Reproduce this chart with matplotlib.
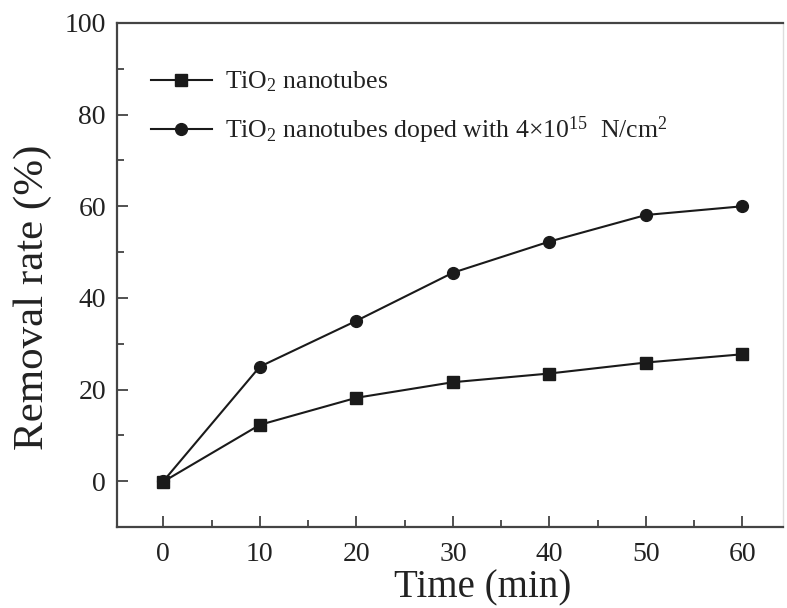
import matplotlib
matplotlib.use("Agg")
import matplotlib.pyplot as plt
from matplotlib.ticker import MultipleLocator

plt.rcParams['font.family'] = ['Liberation Serif', 'DejaVu Serif']
plt.rcParams['mathtext.fontset'] = 'custom'
plt.rcParams['mathtext.rm'] = 'Liberation Serif'
plt.rcParams['mathtext.it'] = 'Liberation Serif:italic'

time = [0, 10, 20, 30, 40, 50, 60]
undoped = [-0.1, 12.3, 18.2, 21.6, 23.5, 25.9, 27.7]
doped = [0.0, 25.0, 35.0, 45.5, 52.3, 58.1, 60.0]
labels = ["TiO$_2$ nanotubes",
          "TiO$_2$ nanotubes doped with 4\u00d710$^{15}$  N/cm$^2$"]

W, H = 787, 608
fig = plt.figure(figsize=(W/100, H/100), dpi=100)
ax = fig.add_axes([117/W, 1-527/H, (783-117)/W, (527-23)/H])

c = '#1a1a1a'
ax.plot(time, undoped, '-s', color=c, lw=1.5, ms=8, label=labels[0])
ax.plot(time, doped, '-o', color=c, lw=1.5, ms=8.5, label=labels[1])

ax.set_xlim(-4.8, 64.2)
ax.set_ylim(-10, 100)
ax.xaxis.set_major_locator(MultipleLocator(10))
ax.xaxis.set_minor_locator(MultipleLocator(5))
ax.yaxis.set_major_locator(MultipleLocator(20))
ax.yaxis.set_minor_locator(MultipleLocator(10))
ax.tick_params(which='both', direction='in', top=False, right=False,
               color='#333333', width=1.2)
ax.tick_params(which='major', length=8, labelsize=20, labelcolor='#222222')
ax.tick_params(axis='x', which='major', pad=11)
ax.tick_params(axis='y', which='major', pad=8)
ax.tick_params(which='minor', length=5)

for s in ['left', 'bottom', 'top']:
    ax.spines[s].set_color('#444444')
    ax.spines[s].set_linewidth(1.6)
ax.spines['right'].set_color('#dddddd')
ax.spines['right'].set_linewidth(1.0)

fig.text(483/W, 1-588/H, 'Time (min)', fontsize=28, color='#222222',
         ha='center', va='center')
fig.text(33/W, 1-297/H, 'Removal rate (%)', fontsize=31, color='#222222',
         ha='center', va='center', rotation=90)

leg = ax.legend(loc='upper left', bbox_to_anchor=(0.035, 0.928), frameon=False,
                fontsize=18.5, handlelength=2.4, handletextpad=0.5,
                labelspacing=0.8, borderaxespad=0, labelcolor='#222222')

fig.savefig('out.png', dpi=100)
